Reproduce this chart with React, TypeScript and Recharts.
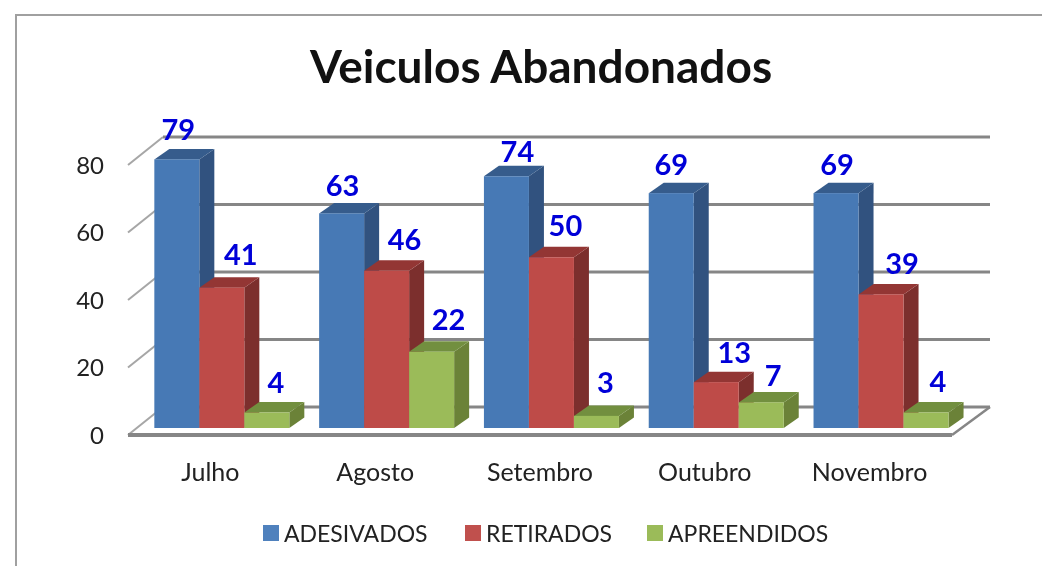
import React from "react";
import { BarChart, Bar, XAxis, YAxis, CartesianGrid, Legend, LabelList } from "recharts";

const months = ["Julho", "Agosto", "Setembro", "Outubro", "Novembro"];
const adesivados = [79, 63, 74, 69, 69];
const retirados = [41, 46, 50, 13, 39];
const apreendidos = [4, 22, 3, 7, 4];
const yTicks = [0, 20, 40, 60, 80];

const rows = months.map((month, i) => ({
  month,
  ADESIVADOS: adesivados[i],
  RETIRADOS: retirados[i],
  APREENDIDOS: apreendidos[i],
}));

// Appearance and layout, separate from the data
const FONT = "Lato, sans-serif";
const DEPTH_X = 35;
const DEPTH_Y = 28;
const BACK_EXTRA = 3;
const BAR_SHIFT_X = 11.5;
const BAR_SHIFT_TOP = -9;
const BAR_SHIFT_BOTTOM = -7;
const BAR_DX = 15;
const BAR_DY = 10.5;
const GRID = "#868686";

const palette = {
  ADESIVADOS: { front: "#4779B5", side: "#31527F", top: "#365C8C", legend: "#4F81BD" },
  RETIRADOS: { front: "#BE4B48", side: "#7C2F2D", top: "#933634", legend: "#C0504D" },
  APREENDIDOS: { front: "#9BBB59", side: "#6B8238", top: "#728F3F", legend: "#9BBB59" },
};
const labelNudge = {
  ADESIVADOS: { x: [1.5, 1, 11, 0, 1], y: [-31, -29, -26, -30, -30] },
  RETIRADOS: { x: [19, 18, 14, 18, 21], y: [-34, -32, -33, -31, -32] },
  APREENDIDOS: { x: [9, 17, 9, 12, 12], y: [-31, -33, -34, -28, -32] },
};

const Box3D = (props: any) => {
  const { x, y, width, height, colors } = props;
  const l = x + BAR_SHIFT_X;
  const r = l + width;
  const t = y + BAR_SHIFT_TOP;
  const b = y + height + BAR_SHIFT_BOTTOM;
  return (
    <g>
      <polygon points={`${r},${t} ${r + BAR_DX},${t - BAR_DY} ${r + BAR_DX},${b - BAR_DY} ${r},${b}`} fill={colors.side} />
      <polygon points={`${l},${t} ${l + BAR_DX},${t - BAR_DY} ${r + BAR_DX},${t - BAR_DY} ${r},${t}`} fill={colors.top} />
      <rect x={l} y={t} width={width} height={b - t} fill={colors.front} />
    </g>
  );
};

const GridLine = (props: any) => {
  const { x1, x2, y1, index } = props;
  const isFloor = y1 > 400;
  return (
    <g key={index}>
      {isFloor && (
        <polygon
          points={`${x1},${y1} ${x1 + DEPTH_X},${y1 - DEPTH_Y} ${x2 + BACK_EXTRA + DEPTH_X},${y1 - DEPTH_Y} ${x2},${y1}`}
          fill="#fff"
        />
      )}
      <line x1={x1} y1={y1} x2={x1 + DEPTH_X} y2={y1 - DEPTH_Y} stroke="#a6a6a6" strokeWidth={2} />
      <line x1={x1 + DEPTH_X} y1={y1 - DEPTH_Y} x2={x2 + BACK_EXTRA + DEPTH_X} y2={y1 - DEPTH_Y} stroke={GRID} strokeWidth={3} />
      {isFloor && (
        <>
          <line x1={x2} y1={y1} x2={x2 + BACK_EXTRA + DEPTH_X} y2={y1 - DEPTH_Y} stroke={GRID} strokeWidth={2.5} />
          <line x1={x1} y1={y1} x2={x2} y2={y1} stroke={GRID} strokeWidth={4} />
        </>
      )}
    </g>
  );
};

const makeLabel = (name: keyof typeof labelNudge) => (props: any) => {
  const { x, y, width, value, index } = props;
  const cx = x + BAR_SHIFT_X + width / 2 + labelNudge[name].x[index];
  const cy = y + BAR_SHIFT_TOP + labelNudge[name].y[index];
  return (
    <text x={cx} y={cy} textAnchor="middle" dominantBaseline="central" fill="#0000D8" fontFamily={FONT} fontWeight={700} fontSize={29}>
      {value}
    </text>
  );
};

const LegendRow = (props: any) => {
  const lefts: Record<string, number> = { ADESIVADOS: 263, RETIRADOS: 465, APREENDIDOS: 647 };
  return (
    <div style={{ position: "relative", height: 30 }}>
      {(props.payload || []).map((p: any) => (
        <div key={p.value} style={{ position: "absolute", left: lefts[p.value], top: 0, display: "flex", alignItems: "center", height: 30 }}>
          <span style={{ width: 16, height: 16, background: palette[p.value as keyof typeof palette].legend, marginRight: 5, display: "inline-block" }} />
          <span style={{ fontFamily: FONT, fontSize: 23, color: "#222", whiteSpace: "nowrap" }}>{p.value}</span>
        </div>
      ))}
    </div>
  );
};

const series = ["ADESIVADOS", "RETIRADOS", "APREENDIDOS"] as const;

export default function App() {
  return (
    <div style={{ position: "fixed", left: 0, top: 0, width: 1042, height: 566, background: "#fff", overflow: "hidden", filter: "blur(0.6px)" }}>
      <div style={{ position: "absolute", left: 15, top: 14, width: 1100, height: 700, border: "2.5px solid #a0a0a0" }} />
      <div style={{ position: "absolute", left: 0, width: 1082, top: 38, textAlign: "center", fontFamily: FONT, fontWeight: 700, fontSize: 46, lineHeight: "56px", color: "#111" }}>
        Veiculos Abandonados
      </div>
      <div style={{ position: "absolute", left: 0, top: 0 }}>
        <BarChart
          width={1042}
          height={566}
          data={rows}
          barCategoryGap="9%"
          barGap={0}
          margin={{ left: 88, right: 90, top: 165, bottom: 91 }}
        >
          <CartesianGrid vertical={false} horizontal={(p: any) => <GridLine {...p} />} />
          <XAxis dataKey="month" height={40} axisLine={false} tickLine={false} tickMargin={22} tick={{ fontFamily: FONT, fontSize: 25, fill: "#222" }} />
          <YAxis width={40} domain={[0, 80]} ticks={yTicks} axisLine={false} tickLine={false} tickMargin={18} tick={{ fontFamily: FONT, fontSize: 24, fill: "#222" }} />
          <Legend verticalAlign="middle" layout="horizontal" content={<LegendRow />} wrapperStyle={{ position: "absolute", left: 0, top: 518, width: 1042 }} />
          {series.map((s) => (
            <Bar key={s} dataKey={s} fill={palette[s].legend} isAnimationActive={false} shape={(p: any) => <Box3D {...p} colors={palette[s]} />}>
              <LabelList dataKey={s} content={makeLabel(s)} />
            </Bar>
          ))}
        </BarChart>
      </div>
    </div>
  );
}
